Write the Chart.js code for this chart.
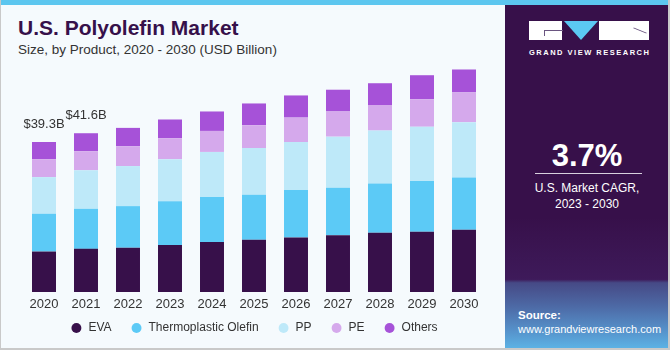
<!DOCTYPE html>
<html>
<head>
<meta charset="utf-8">
<script src="https://cdn.jsdelivr.net/npm/chart.js@4"></script>
<style>
  body { margin: 0; font-family: "Liberation Sans", Arial, sans-serif; }
  #frame { position: relative; width: 670px; height: 350px; box-sizing: border-box;
    background: #f5fafd; border-left: 1px solid #c9c9c9; border-right: 2px solid #c9c9c9; border-bottom: 2px solid #c9c9c9; overflow: hidden; }
  #stripe { position: absolute; left: 0; top: 0; width: 670px; height: 5px; background: #5cc6ef; }
  .title { position: absolute; left: 17px; top: 17px; font-size: 21px; line-height: 1; font-weight: bold; color: #36104a; }
  .subtitle { position: absolute; left: 17px; top: 42.5px; font-size: 13.5px; line-height: 1; color: #333; }
  #chartBox { position: absolute; left: 0; top: 63px; width: 505px; height: 285px; }
  #panel { position: absolute; left: 504px; top: 5px; width: 164px; height: 343px;
    background: linear-gradient(to bottom, #37104a 0%, #37104a 62%, #3e1a5a 80%, #464a86 81%, #4d6aa6 88%, #5692cb 95%, #5cb2e4 100%); color: #fff; }
  .logoL { position: absolute; left: 24px; top: 16px; width: 33px; height: 19px; background: #fff; }
  .logoL:after { content: ""; position: absolute; left: 15px; top: 9px; width: 18px; height: 5px; border-top: 1px solid #6a5580; border-left: 1px solid #6a5580; }
  .logoT { position: absolute; left: 59px; top: 16px; width: 0; height: 0; border-left: 17px solid transparent; border-right: 17px solid transparent; border-top: 19px solid #5bc8f3; }
  .logoR { position: absolute; left: 94px; top: 16px; width: 50px; height: 19px; background: #fff; overflow: hidden; }
  .logoR:after { content: ""; position: absolute; left: 34px; top: 9px; width: 14px; height: 1px; background: #6a5580; transform: rotate(22deg); }
  .gvr { position: absolute; left: 24px; top: 43px; width: 124px; font-size: 7.5px; font-weight: bold; letter-spacing: 1.5px; white-space: nowrap; }
  .cagr { position: absolute; left: 0; width: 164px; text-align: center; top: 134.5px; font-size: 31px; line-height: 1; font-weight: bold; }
  .rule { position: absolute; left: 30px; top: 168px; width: 107px; height: 1px; background: #d8d0de; }
  .cagrTxt { position: absolute; left: 0; width: 164px; text-align: center; top: 175px; font-size: 12px; line-height: 16px; }
  .src { position: absolute; left: 13px; top: 303px; font-size: 11px; line-height: 14px; }
</style>
</head>
<body>
<div id="frame">
  <div id="stripe"></div>
  <div class="title">U.S. Polyolefin Market</div>
  <div class="subtitle">Size, by Product, 2020 - 2030 (USD Billion)</div>
  <div id="chartBox"><canvas id="myChart"></canvas></div>
  <div id="panel">
    <div class="logoL"></div>
    <div class="logoT"></div>
    <div class="logoR"></div>
    <div class="gvr">GRAND VIEW RESEARCH</div>
    <div class="cagr">3.7%</div>
    <div class="rule"></div>
    <div class="cagrTxt">U.S. Market CAGR,<br>2023 - 2030</div>
    <div class="src"><b style="font-size:11.5px">Source:</b><br>www.grandviewresearch.com</div>
  </div>
</div>
<script>
// dados (USD bilhoes)
const years = ["2020", "2021", "2022", "2023", "2024", "2025", "2026", "2027", "2028", "2029", "2030"];
const eva = [10.6, 11.3, 11.6, 12.3, 13.1, 13.7, 14.3, 14.9, 15.5, 15.8, 16.3];
const thermoOlefin = [9.9, 10.5, 10.9, 11.5, 11.8, 11.8, 12.4, 12.4, 12.9, 13.3, 13.7];
const pp = [9.6, 10.1, 10.5, 11.0, 11.8, 12.2, 12.6, 13.4, 13.9, 14.2, 14.5];
const pe = [4.7, 5.0, 5.2, 5.5, 5.5, 6.0, 6.4, 6.6, 6.7, 7.2, 7.8];
const others = [4.5, 4.7, 4.8, 4.9, 5.1, 5.7, 5.8, 5.7, 5.7, 6.3, 6.0];
const totalLabels = ["$39.3B", "$41.6B"];

// rotulos de total em cima das duas primeiras barras
const totalPlugin = {
  id: 'totalLabels',
  afterLayout(chart) {
    // eixo x fica baixo pra legenda subir, mas sem cortar os anos
    chart.scales.x.bottom = chart.scales.x.top + 24;
  },
  afterDatasetsDraw(chart) {
    const ctx = chart.ctx;
    const last = chart.getDatasetMeta(chart.data.datasets.length - 1);
    ctx.save();
    ctx.font = '13px "Liberation Sans", Arial, sans-serif';
    ctx.fillStyle = '#333';
    ctx.textAlign = 'center';
    ctx.textBaseline = 'alphabetic';
    totalLabels.forEach((txt, i) => {
      const bar = last.data[i];
      ctx.fillText(txt, bar.x, bar.y - 14);
    });
    ctx.restore();
  }
};

const config = {
  type: 'bar',
  data: {
    labels: years,
    datasets: [
      { label: 'EVA', data: eva, backgroundColor: '#37104a' },
      { label: 'Thermoplastic Olefin', data: thermoOlefin, backgroundColor: '#5ccaf6' },
      { label: 'PP', data: pp, backgroundColor: '#bee9f9' },
      { label: 'PE', data: pe, backgroundColor: '#d5a9ec' },
      { label: 'Others', data: others, backgroundColor: '#a652d8' }
    ]
  },//fim data
  options: {
    maintainAspectRatio: false,
    animation: false,
    devicePixelRatio: 1,
    datasets: { bar: { barPercentage: 0.571, categoryPercentage: 1 } },
    layout: { padding: { left: 22, right: 21, top: 0, bottom: 4 } },
    plugins: {
      tooltip: { enabled: false },
      legend: {
        position: 'bottom',
        labels: {
          usePointStyle: true,
          pointStyle: 'circle',
          boxWidth: 12,
          boxHeight: 7,
          padding: 19,
          color: '#333',
          font: { size: 12, family: '"Liberation Sans", Arial, sans-serif' }
        }
      }
    },
    scales: {
      x: {
        stacked: true,
        grid: { display: false, drawTicks: false },
        border: { display: false },
        ticks: { color: '#333', padding: 5, font: { size: 13, family: '"Liberation Sans", Arial, sans-serif' } },
        afterFit: (scale) => { scale.height = 11; }
      },
      y: {
        stacked: true,
        display: false,
        min: 0,
        max: 60
      }
    } //fim options
  },
  plugins: [totalPlugin]
};

var myChart = new Chart(document.getElementById("myChart"), config);
</script>
</body>
</html>
